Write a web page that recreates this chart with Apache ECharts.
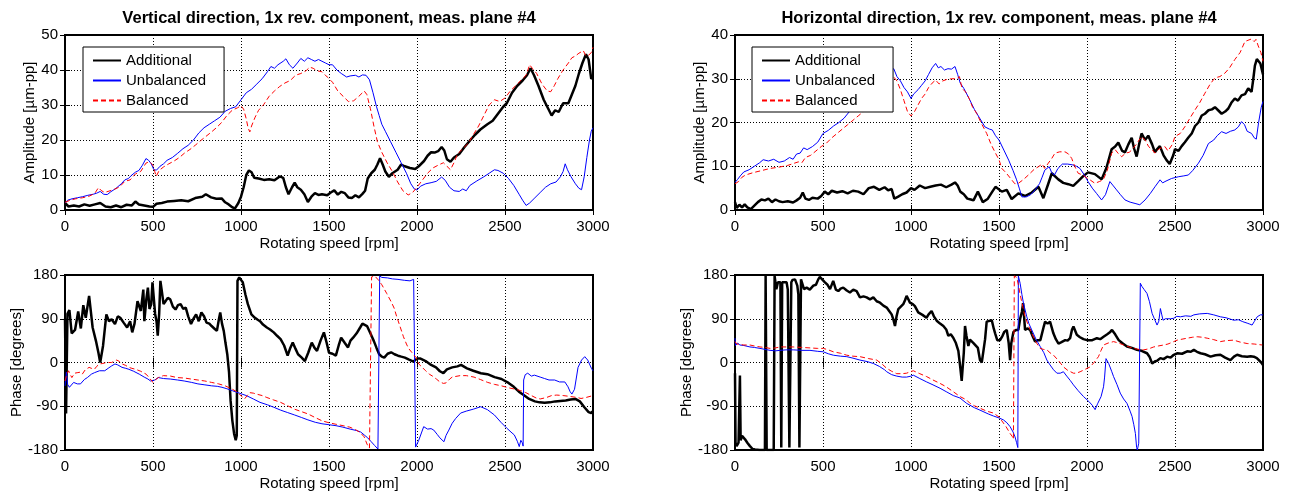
<!DOCTYPE html>
<html>
<head>
<meta charset="utf-8">
<script src="https://cdn.jsdelivr.net/npm/echarts@6/dist/echarts.min.js"></script>
<style>
html,body{margin:0;padding:0;background:#fff;}
#chart{width:1290px;height:495px;}
</style>
</head>
<body>
<div id="chart"></div>
<script>
// ---------- labels ----------
const titles = ['Vertical direction, 1x rev. component, meas. plane #4', 'Horizontal direction, 1x rev. component, meas. plane #4'];
const seriesNames = ['Additional', 'Unbalanced', 'Balanced'];
const xName = 'Rotating speed [rpm]';
const ampName = 'Amplitude [\u00b5m-pp]';
const phaseName = 'Phase [degrees]';
const xTicks = [0, 3000, 500];          // min, max, interval
const vAmpTicks = [0, 50, 10];
const hAmpTicks = [0, 40, 10];
const phaseTicks = [-180, 180, 90];

// ---------- Vertical amplitude [rpm, um-pp] ----------
const vAmpAdditional = [[0,2.0],[20,1.0],[50,1.3],[80,1.0],[110,1.6],[140,1.2],[170,1.6],[200,2.0],[230,1.0],[260,0.8],[290,1.3],[320,0.8],[350,1.5],[380,1.3],[400,2.4],[420,1.6],[450,1.3],[480,1.0],[500,0.9],[520,1.8],[550,2.0],[580,2.4],[620,2.6],[660,2.8],[700,2.5],[740,3.4],[780,3.8],[800,4.5],[830,3.6],[860,3.2],[890,3.3],[910,2.2],[930,1.6],[950,0.8],[965,0.4],[985,2.0],[1000,3.8],[1015,6.5],[1030,10.0],[1045,11.3],[1060,10.8],[1075,9.2],[1100,9.0],[1130,8.6],[1160,8.8],[1190,8.5],[1220,9.6],[1240,9.2],[1255,6.5],[1270,4.5],[1290,6.5],[1305,7.8],[1320,6.5],[1340,5.8],[1360,4.5],[1380,2.3],[1400,3.8],[1420,4.8],[1440,4.3],[1460,4.5],[1490,4.2],[1510,5.0],[1530,5.6],[1550,4.4],[1570,5.2],[1590,4.8],[1610,3.6],[1630,3.4],[1650,4.2],[1670,3.6],[1690,4.6],[1705,5.5],[1720,9.0],[1740,10.5],[1760,11.5],[1775,13.0],[1790,14.8],[1805,13.0],[1820,11.0],[1840,9.5],[1860,10.5],[1890,11.5],[1910,13.0],[1930,12.5],[1960,12.0],[1990,11.7],[2010,12.5],[2040,14.0],[2060,15.5],[2080,16.5],[2100,16.4],[2120,16.8],[2140,18.0],[2155,17.0],[2170,14.5],[2190,13.8],[2210,15.0],[2240,16.0],[2270,18.0],[2300,19.8],[2330,21.5],[2360,23.0],[2400,24.5],[2430,25.5],[2460,27.5],[2490,29.5],[2510,30.5],[2540,33.5],[2570,35.5],[2600,37.0],[2625,38.5],[2645,40.5],[2665,38.5],[2690,35.5],[2720,31.5],[2745,29.0],[2765,27.0],[2785,28.5],[2805,28.0],[2830,30.5],[2860,30.5],[2880,33.0],[2900,35.5],[2920,39.0],[2940,42.0],[2960,44.5],[2975,43.0],[2990,37.5],[3000,38.0]];
const vAmpUnbalanced = [[0,2.0],[15,2.8],[40,3.2],[70,3.5],[100,3.8],[130,4.2],[160,4.5],[180,4.8],[200,5.3],[220,4.5],[240,4.4],[260,5.2],[290,6.2],[320,7.5],[340,8.6],[360,9.0],[380,10.0],[400,10.8],[420,11.3],[440,12.8],[460,14.7],[475,14.2],[490,13.2],[505,11.5],[520,11.4],[540,12.5],[560,13.2],[580,14.2],[610,15.0],[640,16.2],[670,17.5],[700,18.5],[730,20.0],[760,22.0],[790,23.5],[820,24.5],[850,25.5],[880,26.5],[910,28.2],[940,29.0],[970,29.5],[1000,31.5],[1030,33.5],[1060,34.5],[1090,36.0],[1120,37.5],[1150,39.5],[1170,41.0],[1190,40.5],[1210,41.5],[1240,42.5],[1255,43.2],[1275,41.5],[1295,40.5],[1320,42.0],[1340,43.3],[1360,42.5],[1380,43.5],[1400,43.0],[1420,42.5],[1440,43.0],[1460,42.5],[1480,42.0],[1500,41.5],[1520,41.5],[1545,40.0],[1570,39.0],[1600,38.0],[1620,38.3],[1650,38.5],[1670,38.0],[1690,38.6],[1710,38.5],[1730,37.2],[1750,33.5],[1770,29.5],[1785,27.0],[1800,24.5],[1820,22.5],[1850,19.5],[1880,16.5],[1910,13.5],[1940,10.5],[1965,7.5],[1985,6.0],[2000,5.7],[2020,6.8],[2050,7.5],[2080,7.8],[2110,8.2],[2140,9.4],[2160,8.5],[2185,6.5],[2210,5.5],[2240,5.3],[2260,6.0],[2280,5.5],[2300,7.0],[2340,8.3],[2380,9.5],[2410,10.5],[2440,11.5],[2460,11.3],[2490,10.5],[2520,9.0],[2550,7.0],[2580,4.5],[2600,2.8],[2620,1.3],[2640,2.0],[2670,3.5],[2700,5.0],[2730,6.5],[2760,7.5],[2790,8.0],[2815,9.5],[2830,11.0],[2842,13.2],[2855,11.5],[2875,9.5],[2900,7.5],[2920,6.2],[2935,5.8],[2950,9.5],[2965,15.0],[2980,20.0],[2990,22.5],[3000,23.5]];
const vAmpBalanced = [[0,2.2],[30,2.8],[60,3.2],[100,3.5],[140,4.0],[170,4.8],[190,6.4],[205,5.6],[225,5.0],[250,5.4],[280,5.9],[310,6.6],[340,8.2],[370,8.6],[400,10.3],[430,11.0],[460,13.4],[480,13.8],[500,12.8],[510,11.0],[518,9.6],[535,11.3],[560,12.3],[590,13.2],[620,14.0],[650,15.0],[680,16.3],[710,17.3],[740,18.5],[770,19.8],[800,21.0],[830,22.2],[860,23.5],[890,25.0],[920,27.0],[950,28.5],[980,29.2],[1000,29.8],[1015,28.8],[1030,26.0],[1040,23.5],[1050,22.3],[1060,24.0],[1080,26.5],[1100,28.5],[1130,30.2],[1160,32.5],[1190,34.0],[1220,35.3],[1250,36.3],[1280,37.0],[1310,38.5],[1340,39.0],[1370,39.8],[1390,40.8],[1410,40.5],[1430,39.8],[1460,39.5],[1490,38.0],[1520,36.5],[1550,34.0],[1580,32.5],[1610,31.0],[1640,31.2],[1670,32.5],[1700,34.0],[1715,33.0],[1735,29.0],[1755,24.0],[1775,19.5],[1800,16.5],[1830,13.5],[1860,11.0],[1890,8.0],[1920,5.5],[1950,4.3],[1975,5.0],[2000,6.5],[2030,8.5],[2060,10.5],[2090,12.0],[2120,12.8],[2150,13.5],[2170,12.5],[2190,11.5],[2210,13.5],[2230,16.0],[2260,17.5],[2290,19.0],[2320,21.5],[2350,24.0],[2380,27.0],[2410,30.0],[2440,31.5],[2470,31.0],[2500,32.0],[2530,34.0],[2560,35.5],[2590,37.0],[2620,38.5],[2640,41.5],[2655,40.5],[2680,39.0],[2710,36.0],[2740,34.0],[2760,33.8],[2780,35.5],[2800,37.5],[2830,40.0],[2860,42.0],[2880,43.5],[2900,44.0],[2920,44.8],[2945,45.5],[2960,44.0],[2975,44.2],[2990,45.0],[3000,46.5]];

// ---------- Horizontal amplitude [rpm, um-pp] ----------
const hAmpAdditional = [[0,1.8],[10,0.5],[25,1.2],[40,0.6],[55,1.3],[70,0.6],[90,0.2],[110,1.0],[130,1.8],[150,2.4],[170,2.2],[190,2.6],[210,1.8],[230,2.4],[250,2.0],[270,1.8],[300,2.0],[330,1.7],[350,2.2],[370,2.8],[385,4.0],[400,2.6],[420,2.3],[440,2.8],[470,2.6],[490,3.2],[510,4.2],[530,3.6],[550,4.4],[580,4.0],[610,4.3],[640,3.8],[670,4.4],[700,4.2],[730,3.6],[760,5.0],[790,5.3],[820,4.6],[850,5.2],[870,4.5],[890,4.8],[905,2.6],[925,3.0],[950,3.6],[975,4.0],[1000,5.0],[1020,4.6],[1050,5.6],[1080,5.0],[1110,5.3],[1140,5.6],[1170,5.8],[1200,5.2],[1230,5.8],[1250,6.3],[1265,5.6],[1280,4.2],[1300,3.6],[1320,2.6],[1340,2.4],[1355,2.2],[1380,4.2],[1408,1.8],[1435,2.5],[1462,4.2],[1480,5.3],[1516,4.2],[1544,4.6],[1572,2.5],[1610,3.8],[1648,3.2],[1686,4.0],[1724,5.3],[1752,2.7],[1780,6.0],[1800,8.4],[1837,7.0],[1865,6.2],[1894,5.9],[1922,5.5],[1950,6.6],[1980,7.8],[2006,8.6],[2045,8.2],[2083,7.0],[2110,9.6],[2140,13.9],[2160,14.5],[2178,15.4],[2200,13.5],[2216,13.2],[2235,15.0],[2254,16.5],[2268,14.0],[2282,12.2],[2296,15.0],[2310,17.5],[2330,16.0],[2348,17.0],[2370,15.0],[2386,13.2],[2400,14.0],[2414,14.6],[2435,12.5],[2452,11.4],[2470,10.5],[2480,10.7],[2490,12.5],[2500,13.9],[2520,13.5],[2538,14.6],[2556,15.5],[2575,16.5],[2595,17.5],[2614,19.2],[2633,20.0],[2652,21.6],[2670,22.0],[2690,22.8],[2710,23.0],[2727,23.5],[2745,22.8],[2765,22.0],[2785,22.5],[2803,23.2],[2820,24.5],[2840,25.5],[2858,25.0],[2878,26.2],[2898,26.5],[2916,27.8],[2935,27.0],[2945,30.0],[2954,33.0],[2965,34.5],[2975,34.0],[2985,33.5],[3000,31.0]];
const hAmpUnbalanced = [[0,6.3],[15,7.0],[30,7.8],[40,7.5],[50,8.7],[80,9.2],[110,10.0],[140,10.8],[160,11.5],[190,11.2],[220,11.6],[250,10.9],[280,11.2],[310,12.0],[330,11.6],[350,12.8],[370,13.0],[390,14.2],[410,13.8],[440,14.5],[470,15.5],[500,17.5],[530,18.2],[560,19.2],[590,20.0],[620,21.0],[650,22.5],[680,23.5],[710,25.0],[750,26.5],[800,28.5],[850,30.5],[880,31.5],[902,32.3],[920,30.5],[940,29.5],[960,28.0],[980,27.0],[1000,25.5],[1015,26.5],[1040,27.5],[1060,28.5],[1080,29.5],[1100,31.0],[1120,32.5],[1140,33.5],[1155,32.5],[1170,32.8],[1190,32.0],[1210,32.3],[1230,32.2],[1250,32.8],[1265,31.0],[1280,29.0],[1300,27.8],[1330,25.5],[1360,23.0],[1390,21.0],[1420,19.0],[1445,18.5],[1462,18.3],[1480,17.0],[1500,16.0],[1530,13.5],[1555,11.4],[1580,9.0],[1600,6.9],[1615,5.0],[1630,3.0],[1655,3.0],[1680,3.5],[1705,4.6],[1730,6.0],[1745,7.5],[1760,9.1],[1785,9.9],[1800,8.5],[1815,8.0],[1835,9.5],[1860,10.5],[1890,10.5],[1920,10.3],[1940,10.0],[1960,9.5],[1985,8.0],[2006,6.5],[2030,5.0],[2054,3.8],[2083,2.3],[2105,3.5],[2130,6.5],[2150,5.5],[2168,4.6],[2190,3.5],[2216,2.3],[2245,1.8],[2273,1.5],[2300,1.2],[2330,2.3],[2360,3.8],[2386,5.3],[2415,6.9],[2430,6.2],[2443,6.5],[2480,7.2],[2519,7.6],[2550,7.8],[2576,8.0],[2600,9.0],[2633,10.7],[2660,12.5],[2690,15.2],[2720,16.0],[2740,17.0],[2765,17.9],[2790,17.5],[2815,18.0],[2840,18.3],[2860,19.0],[2878,20.2],[2895,19.5],[2910,18.0],[2935,17.5],[2950,16.5],[2962,16.2],[2975,20.0],[2990,23.5],[3000,24.8]];
const hAmpBalanced = [[0,6.0],[20,6.5],[40,7.5],[60,8.0],[100,8.5],[150,9.0],[200,9.5],[250,9.8],[300,10.2],[330,10.6],[360,11.0],[380,10.8],[400,12.0],[430,12.5],[460,13.5],[490,14.5],[520,15.3],[550,16.5],[580,17.5],[610,18.5],[640,19.5],[670,20.5],[700,21.5],[730,22.5],[760,23.5],[790,24.5],[820,26.0],[850,27.5],[880,29.5],[900,30.5],[920,29.5],[940,27.5],[960,25.0],[980,22.5],[1000,21.5],[1020,22.5],[1040,24.0],[1060,25.5],[1080,26.5],[1100,28.0],[1120,29.0],[1140,29.7],[1160,28.8],[1180,29.5],[1200,29.8],[1230,30.0],[1260,30.0],[1275,30.5],[1290,27.8],[1310,27.0],[1330,25.5],[1350,23.5],[1373,22.1],[1400,19.8],[1430,17.5],[1455,15.0],[1480,13.0],[1500,11.5],[1516,9.5],[1540,8.5],[1572,6.9],[1590,6.0],[1610,6.1],[1640,7.0],[1667,8.0],[1700,9.3],[1724,9.9],[1745,10.5],[1760,9.5],[1780,10.7],[1800,11.8],[1818,13.0],[1845,13.3],[1875,13.3],[1895,12.8],[1913,11.8],[1930,10.0],[1950,8.4],[1975,8.0],[2000,7.3],[2020,6.8],[2045,6.1],[2070,6.5],[2092,6.9],[2115,9.0],[2140,13.0],[2160,13.8],[2180,12.8],[2197,12.2],[2220,13.0],[2240,13.2],[2254,13.7],[2280,15.0],[2310,16.8],[2330,16.0],[2350,14.5],[2370,13.8],[2386,13.0],[2410,14.0],[2443,14.5],[2460,13.5],[2471,13.2],[2485,15.0],[2500,16.8],[2530,17.5],[2557,19.1],[2585,21.0],[2614,22.9],[2640,24.5],[2670,26.7],[2700,28.8],[2727,30.2],[2755,30.5],[2784,31.3],[2810,32.5],[2840,34.4],[2870,36.0],[2897,38.5],[2915,38.8],[2935,39.1],[2950,38.5],[2960,39.0],[2973,37.5],[2988,36.0],[3000,34.0]];

// ---------- Vertical phase [rpm, deg] ----------
const vPhaseAdditional = [[0,90],[6,-105],[14,100],[25,108],[38,60],[57,67],[75,105],[90,70],[104,118],[118,92],[137,137],[157,72],[176,44],[190,20],[200,0],[216,34],[235,99],[250,85],[265,89],[284,79],[300,95],[314,92],[333,82],[353,72],[370,85],[382,62],[395,80],[412,126],[431,106],[445,150],[451,85],[462,130],[471,154],[480,110],[490,120],[497,165],[504,168],[512,100],[520,85],[527,55],[535,100],[542,168],[549,150],[560,120],[569,125],[584,133],[598,130],[613,115],[628,109],[642,118],[657,120],[672,110],[686,113],[700,95],[716,79],[730,90],[745,99],[760,85],[775,103],[790,95],[804,82],[820,80],[833,75],[848,70],[863,65],[875,90],[882,103],[892,80],[902,65],[912,40],[922,17],[932,-20],[941,-79],[951,-120],[961,-147],[970,-160],[976,-150],[980,168],[990,175],[1000,170],[1010,165],[1025,140],[1039,120],[1059,99],[1079,92],[1095,88],[1108,85],[1125,78],[1147,72],[1165,68],[1186,62],[1205,55],[1225,48],[1245,35],[1265,14],[1280,30],[1294,41],[1310,28],[1324,17],[1345,10],[1363,3],[1382,20],[1402,41],[1418,30],[1432,24],[1452,45],[1471,62],[1487,40],[1500,20],[1520,18],[1539,14],[1555,35],[1569,51],[1590,40],[1608,31],[1622,45],[1637,51],[1657,60],[1677,72],[1690,80],[1700,84],[1716,75],[1735,60],[1755,44],[1770,30],[1785,17],[1800,12],[1814,10],[1833,18],[1853,21],[1872,17],[1892,14],[1911,12],[1931,10],[1955,6],[1980,2],[2000,8],[2020,8],[2049,3],[2080,-5],[2108,-10],[2130,-18],[2150,-22],[2170,-14],[2200,-10],[2230,-8],[2250,-5],[2284,-12],[2320,-17],[2363,-22],[2400,-24],[2441,-30],[2480,-34],[2520,-42],[2550,-50],[2579,-60],[2610,-68],[2637,-75],[2670,-80],[2696,-82],[2725,-83],[2755,-82],[2785,-80],[2814,-79],[2845,-78],[2873,-76],[2900,-75],[2925,-80],[2951,-92],[2975,-102],[2990,-104],[3000,-100]];
const vPhaseUnbalanced = [[0,-48],[8,-20],[15,-45],[25,-51],[49,-41],[70,-44],[88,-44],[110,-35],[127,-31],[150,-24],[167,-21],[196,-17],[226,-17],[245,-12],[265,-7],[284,-3],[300,-5],[324,-10],[345,-12],[363,-14],[390,-18],[422,-24],[450,-30],[471,-34],[486,-38],[496,-41],[510,-36],[530,-31],[560,-33],[598,-34],[640,-36],[677,-38],[720,-41],[755,-44],[795,-46],[833,-48],[865,-49],[892,-51],[920,-54],[951,-58],[990,-63],[1030,-68],[1070,-75],[1108,-82],[1150,-87],[1186,-92],[1225,-98],[1265,-103],[1305,-108],[1343,-113],[1380,-118],[1422,-123],[1460,-126],[1500,-128],[1540,-130],[1579,-133],[1620,-137],[1657,-140],[1680,-143],[1700,-149],[1720,-155],[1740,-163],[1760,-171],[1778,-178],[1786,-180],[1788,178],[1800,175],[1833,174],[1860,172],[1892,171],[1930,169],[1960,168],[1981,171],[1988,170],[1992,-174],[2000,-173],[2010,-160],[2025,-145],[2038,-132],[2060,-137],[2080,-136],[2095,-139],[2115,-148],[2130,-155],[2153,-163],[2165,-150],[2181,-139],[2200,-125],[2220,-115],[2248,-104],[2280,-100],[2320,-96],[2362,-91],[2400,-97],[2440,-108],[2477,-123],[2510,-135],[2540,-145],[2553,-149],[2570,-162],[2581,-173],[2590,-160],[2598,-165],[2603,-172],[2606,-36],[2615,-25],[2629,-22],[2650,-28],[2667,-26],[2700,-30],[2725,-33],[2750,-36],[2782,-36],[2810,-40],[2840,-40],[2858,-50],[2870,-60],[2880,-65],[2895,-55],[2915,-10],[2935,5],[2953,12],[2970,5],[2991,-12],[3000,-17]];
const vPhaseBalanced = [[0,-38],[10,-25],[20,-17],[30,-25],[39,-31],[55,-22],[69,-21],[85,-20],[98,-24],[115,-15],[137,-10],[150,-12],[167,-14],[180,-8],[196,-3],[215,-2],[235,0],[265,0],[280,3],[294,5],[310,2],[324,-3],[345,-6],[363,-10],[380,-12],[402,-14],[430,-18],[461,-24],[480,-32],[500,-41],[512,-36],[530,-31],[559,-27],[600,-28],[637,-31],[680,-32],[716,-34],[755,-36],[794,-38],[833,-41],[873,-44],[910,-48],[951,-55],[975,-60],[990,-65],[1005,-70],[1020,-75],[1035,-68],[1049,-62],[1070,-63],[1088,-65],[1120,-68],[1147,-72],[1185,-77],[1225,-82],[1265,-89],[1304,-96],[1343,-101],[1382,-106],[1420,-113],[1461,-120],[1500,-124],[1539,-127],[1580,-130],[1618,-133],[1650,-138],[1677,-144],[1700,-153],[1716,-168],[1730,-176],[1738,-178],[1742,176],[1760,178],[1780,170],[1800,160],[1828,142],[1853,125],[1870,112],[1885,94],[1900,78],[1923,53],[1940,38],[1952,29],[1970,21],[1980,18],[1995,10],[2010,-3],[2030,-10],[2049,-17],[2070,-24],[2088,-28],[2110,-34],[2130,-40],[2150,-43],[2165,-42],[2186,-34],[2200,-30],[2245,-27],[2280,-27],[2324,-30],[2360,-35],[2402,-41],[2440,-45],[2480,-48],[2520,-52],[2559,-55],[2590,-58],[2618,-62],[2650,-68],[2677,-73],[2700,-75],[2736,-72],[2765,-68],[2794,-67],[2830,-68],[2873,-70],[2910,-72],[2932,-74],[2960,-72],[3000,-68]];

// ---------- Horizontal phase [rpm, deg] ----------
const hPhaseAdditional = [[0,-22],[3,-165],[9,-172],[20,-165],[28,-27],[32,-160],[40,-151],[57,-158],[70,-165],[85,-172],[100,-178],[114,-179],[140,-180],[170,-180],[174,178],[177,178],[180,-180],[200,-180],[220,-180],[225,178],[235,151],[244,165],[258,165],[263,-175],[268,165],[274,165],[293,165],[300,150],[306,150],[309,-175],[314,-175],[320,165],[327,170],[341,171],[354,158],[360,140],[366,-175],[371,-175],[375,171],[384,171],[392,151],[407,154],[425,150],[445,158],[460,160],[473,171],[482,176],[492,178],[511,165],[525,160],[540,151],[558,168],[573,150],[587,147],[600,152],[615,154],[635,148],[653,144],[672,150],[691,147],[710,134],[730,136],[748,134],[767,130],[786,134],[805,126],[824,123],[843,117],[862,113],[876,106],[890,99],[900,88],[909,75],[918,95],[928,110],[942,115],[956,120],[966,128],[975,137],[985,130],[994,123],[1010,120],[1022,116],[1041,103],[1065,98],[1088,92],[1100,99],[1117,106],[1130,95],[1146,86],[1165,80],[1184,75],[1200,68],[1212,55],[1226,58],[1240,51],[1255,40],[1269,24],[1280,-10],[1288,-38],[1297,-36],[1300,20],[1307,75],[1315,55],[1326,34],[1335,47],[1345,51],[1355,40],[1364,36],[1380,30],[1392,5],[1402,0],[1412,25],[1421,48],[1430,84],[1440,88],[1459,87],[1470,70],[1478,60],[1490,46],[1506,46],[1520,55],[1530,63],[1544,67],[1555,40],[1563,5],[1570,40],[1582,63],[1596,67],[1610,67],[1620,90],[1630,104],[1637,122],[1648,67],[1660,70],[1677,67],[1690,55],[1705,43],[1720,46],[1735,46],[1743,50],[1755,75],[1762,84],[1776,80],[1790,84],[1809,60],[1823,48],[1838,39],[1855,42],[1876,46],[1890,45],[1904,50],[1915,68],[1923,74],[1931,70],[1942,57],[1960,52],[1980,48],[2000,46],[2030,46],[2056,50],[2075,48],[2094,53],[2115,58],[2130,62],[2142,67],[2160,58],[2180,46],[2200,40],[2227,33],[2255,30],[2284,26],[2310,24],[2341,19],[2355,12],[2370,-2],[2385,2],[2400,4],[2417,9],[2435,7],[2455,12],[2475,10],[2490,15],[2512,19],[2540,18],[2569,23],[2590,22],[2607,26],[2625,22],[2645,19],[2670,17],[2702,12],[2730,15],[2758,16],[2785,10],[2815,5],[2835,12],[2853,16],[2880,13],[2910,12],[2930,13],[2948,12],[2965,9],[2976,5],[2990,0],[3000,-5]];
const hPhaseUnbalanced = [[0,50],[3,35],[15,40],[28,36],[50,35],[85,32],[110,31],[142,29],[170,27],[199,25],[230,24],[256,25],[290,26],[331,26],[380,25],[426,25],[470,23],[502,22],[530,18],[559,15],[600,13],[635,12],[670,9],[710,5],[750,2],[786,-2],[820,-8],[850,-15],[862,-19],[890,-25],[919,-28],[950,-30],[975,-30],[1000,-28],[1013,-26],[1050,-33],[1089,-40],[1125,-46],[1165,-53],[1200,-60],[1240,-68],[1278,-73],[1316,-84],[1360,-93],[1392,-98],[1440,-106],[1468,-110],[1500,-114],[1525,-118],[1545,-124],[1563,-132],[1580,-143],[1591,-153],[1600,-165],[1607,-175],[1610,178],[1620,163],[1630,140],[1639,122],[1658,94],[1670,80],[1686,67],[1710,48],[1734,33],[1755,20],[1772,5],[1790,-5],[1810,-15],[1829,-22],[1848,-22],[1866,-19],[1885,-28],[1905,-37],[1923,-46],[1950,-58],[1980,-70],[2010,-80],[2030,-88],[2046,-97],[2060,-85],[2080,-70],[2094,-50],[2100,-30],[2108,8],[2115,5],[2123,-2],[2140,-18],[2151,-29],[2170,-45],[2189,-63],[2208,-75],[2227,-84],[2245,-100],[2256,-111],[2266,-128],[2275,-146],[2282,-175],[2286,-180],[2294,-166],[2298,-170],[2303,163],[2313,156],[2325,150],[2341,142],[2355,125],[2370,101],[2385,88],[2398,77],[2408,85],[2417,111],[2425,98],[2432,87],[2445,90],[2455,91],[2475,90],[2493,91],[2510,95],[2531,94],[2560,96],[2590,95],[2607,98],[2640,100],[2683,101],[2720,98],[2758,94],[2790,92],[2834,87],[2860,88],[2885,84],[2910,81],[2925,79],[2938,77],[2950,84],[2967,94],[2985,98],[3000,98]];
const hPhaseBalanced = [[0,43],[10,38],[19,36],[50,36],[85,36],[110,34],[142,32],[170,31],[199,29],[230,30],[256,32],[290,32],[331,32],[380,31],[426,30],[470,29],[502,29],[530,26],[559,22],[600,19],[635,15],[670,13],[710,12],[760,8],[805,5],[835,-3],[862,-12],[890,-18],[919,-23],[950,-23],[975,-22],[995,-19],[1013,-17],[1050,-23],[1089,-29],[1125,-36],[1165,-43],[1200,-50],[1240,-60],[1278,-70],[1316,-77],[1335,-84],[1360,-89],[1392,-94],[1430,-100],[1468,-104],[1500,-112],[1516,-120],[1540,-132],[1563,-146],[1575,-152],[1582,-158],[1585,-160],[1587,178],[1601,175],[1610,160],[1620,140],[1635,115],[1648,94],[1665,78],[1686,60],[1710,42],[1734,29],[1752,27],[1772,26],[1790,20],[1810,15],[1840,3],[1866,-9],[1890,-16],[1923,-22],[1940,-22],[1961,-19],[1990,-14],[2018,-9],[2040,0],[2065,12],[2080,25],[2094,36],[2120,40],[2151,43],[2180,40],[2208,36],[2240,32],[2265,29],[2295,27],[2322,26],[2350,28],[2379,32],[2405,34],[2436,36],[2460,38],[2493,43],[2512,46],[2540,48],[2569,50],[2600,52],[2626,53],[2655,52],[2683,50],[2720,47],[2758,43],[2790,45],[2834,46],[2870,42],[2910,39],[2950,38],[2996,36],[3000,36]];

// ---------- build chart ----------
const FONT = '"Liberation Sans", Arial, sans-serif';
const panels = [
  {left: 65,  top: 35,  y: vAmpTicks,   yName: ampName,   yGap: 27, data: [vAmpAdditional, vAmpUnbalanced, vAmpBalanced]},
  {left: 735, top: 35,  y: hAmpTicks,   yName: ampName,   yGap: 27, data: [hAmpAdditional, hAmpUnbalanced, hAmpBalanced]},
  {left: 65,  top: 275, y: phaseTicks,  yName: phaseName, yGap: 36, data: [vPhaseAdditional, vPhaseUnbalanced, vPhaseBalanced]},
  {left: 735, top: 275, y: phaseTicks,  yName: phaseName, yGap: 36, data: [hPhaseAdditional, hPhaseUnbalanced, hPhaseBalanced]}
];
const W = 528, H = 175;
const lineStyles = [
  {color: '#000000', width: 2.5, type: 'solid'},
  {color: '#0000ff', width: 1, type: 'solid'},
  {color: '#ff0000', width: 1, type: [5, 3]}
];
const grids = [], xAxes = [], yAxes = [], series = [];
const txt = {color: '#000', fontSize: 15, fontFamily: FONT};
const plain = v => String(v);
panels.forEach((p, i) => {
  grids.push({left: p.left, top: p.top, width: W, height: H, show: true, borderColor: '#000', borderWidth: 2, backgroundColor: 'transparent'});
  const tick = {show: true, inside: true, length: 5, lineStyle: {color: '#000', width: 1}};
  xAxes.push({gridIndex: i, type: 'value', min: xTicks[0], max: xTicks[1], interval: xTicks[2], position: 'bottom',
    axisLine: {show: false}, axisTick: tick, axisLabel: Object.assign({margin: 9, formatter: plain}, txt),
    splitLine: {show: true, lineStyle: {color: '#000', width: 1, type: [1, 2]}},
    name: xName, nameLocation: 'middle', nameGap: 26, nameTextStyle: txt});
  yAxes.push({gridIndex: i, type: 'value', min: p.y[0], max: p.y[1], interval: p.y[2], position: 'left',
    axisLine: {show: false}, axisTick: tick, axisLabel: Object.assign({margin: 7, formatter: plain}, txt),
    splitLine: {show: true, lineStyle: {color: '#000', width: 1, type: [1, 2]}},
    name: p.yName, nameLocation: 'middle', nameGap: p.yGap, nameTextStyle: txt});
  p.data.forEach((d, k) => {
    series.push({name: seriesNames[k], type: 'line', xAxisIndex: i, yAxisIndex: i, data: d,
      symbol: 'none', showSymbol: false, lineStyle: lineStyles[k], itemStyle: {color: lineStyles[k].color},
      animation: false, silent: true, z: 2 + k});
  });
});
// mirrored tick marks on top and right borders
panels.forEach((p, i) => {
  const tick = {show: true, inside: true, length: 5, lineStyle: {color: '#000', width: 1}};
  xAxes.push({gridIndex: i, type: 'value', min: xTicks[0], max: xTicks[1], interval: xTicks[2], position: 'top',
    axisLine: {show: false}, axisTick: tick, axisLabel: {show: false}, splitLine: {show: false}});
  yAxes.push({gridIndex: i, type: 'value', min: p.y[0], max: p.y[1], interval: p.y[2], position: 'right',
    axisLine: {show: false}, axisTick: tick, axisLabel: {show: false}, splitLine: {show: false}});
});
const legendBase = {
  orient: 'vertical', top: 47, data: seriesNames, backgroundColor: '#fff', borderColor: '#000', borderWidth: 1,
  padding: [6, 18, 4, 9], itemGap: 5, itemWidth: 28, itemHeight: 14, textStyle: txt, selectedMode: false, z: 10,
  itemStyle: {opacity: 0, borderWidth: 0}
};
const option = {
  animation: false,
  backgroundColor: '#fff',
  textStyle: {fontFamily: FONT},
  graphic: [
    {type: 'text', x: 329, y: 18, z: 10, style: {text: titles[0], font: 'bold 16.5px ' + FONT, fill: '#000', align: 'center', verticalAlign: 'middle'}},
    {type: 'text', x: 999, y: 18, z: 10, style: {text: titles[1], font: 'bold 16.5px ' + FONT, fill: '#000', align: 'center', verticalAlign: 'middle'}}
  ],
  legend: [Object.assign({left: 83}, legendBase), Object.assign({left: 752}, legendBase)],
  grid: grids, xAxis: xAxes, yAxis: yAxes, series: series
};
const chart = echarts.init(document.getElementById('chart'), null, {renderer: 'canvas'});
chart.setOption(option);
</script>
</body>
</html>
